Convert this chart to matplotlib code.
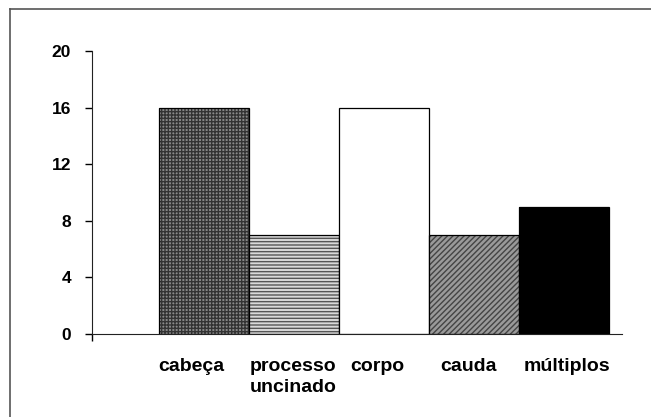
import matplotlib
matplotlib.use("Agg")
import matplotlib.pyplot as plt
import matplotlib.transforms as mtransforms
from matplotlib.lines import Line2D

plt.rcParams["font.family"] = ["Liberation Sans", "DejaVu Sans"]
plt.rcParams["hatch.linewidth"] = 1.0

categorias = ["cabeça", "processo\nuncinado", "corpo", "cauda", "múltiplos"]
valores = [16, 7, 16, 7, 9]
y_ticks = [0, 4, 8, 12, 16, 20]

# fill / hatch per bar (grey-scale look of the original)
faces = ["#8a8a8a", "#d9d9d9", "white", "#9a9a9a", "black"]
hatches = ["+++++", "-----", None, "//////", None]
hatch_cols = ["#333333", "#555555", "black", "#444444", "black"]
# labels in the original sit a little off the bar centres (pixels)
nudge = [-13, -1, -7, -6, 3]

fig = plt.figure(figsize=(6.51, 4.17), dpi=100)
ax = fig.add_axes([92 / 651, 1 - 334 / 417, 530 / 651, 283 / 417])

pos = list(range(len(valores)))
for i in pos:
    ax.bar(i, valores[i], width=1.0, color=faces[i], hatch=hatches[i],
           edgecolor=hatch_cols[i], linewidth=0)
    ax.bar(i, valores[i], width=1.0, fill=False, edgecolor="black", linewidth=0.9)

ax.set_xlim(-1.244, 4.644)
ax.set_ylim(0, 20)
ax.set_yticks(y_ticks)
ax.set_yticklabels([str(v) for v in y_ticks], fontsize=12.5, fontweight="bold")
ax.tick_params(axis="y", direction="out", length=5, width=1, pad=10)

ax.set_xticks(pos)
ax.set_xticklabels(categorias, fontsize=14, fontweight="bold", linespacing=1.25,
                   va="top", multialignment="left")
ax.tick_params(axis="x", length=0, pad=17.5)
for lab, dx in zip(ax.get_xticklabels(), nudge):
    off = mtransforms.ScaledTranslation(dx / 100, 0, fig.dpi_scale_trans)
    lab.set_transform(lab.get_transform() + off)
ax.set_xticks([-1.244], minor=True)
ax.tick_params(axis="x", which="minor", direction="out", length=5, width=1)

for s in ["top", "right"]:
    ax.spines[s].set_visible(False)
ax.spines["left"].set_color("#222222")
ax.spines["bottom"].set_color("#222222")

# outer frame (only top and left visible in the original crop)
fig.add_artist(Line2D([10 / 651, 10 / 651], [0, 1 - 9 / 417], color="#555555", lw=1.2))
fig.add_artist(Line2D([10 / 651, 1], [1 - 9 / 417, 1 - 9 / 417], color="#555555", lw=1.2))

fig.savefig("out.png", dpi=100, facecolor="white")
